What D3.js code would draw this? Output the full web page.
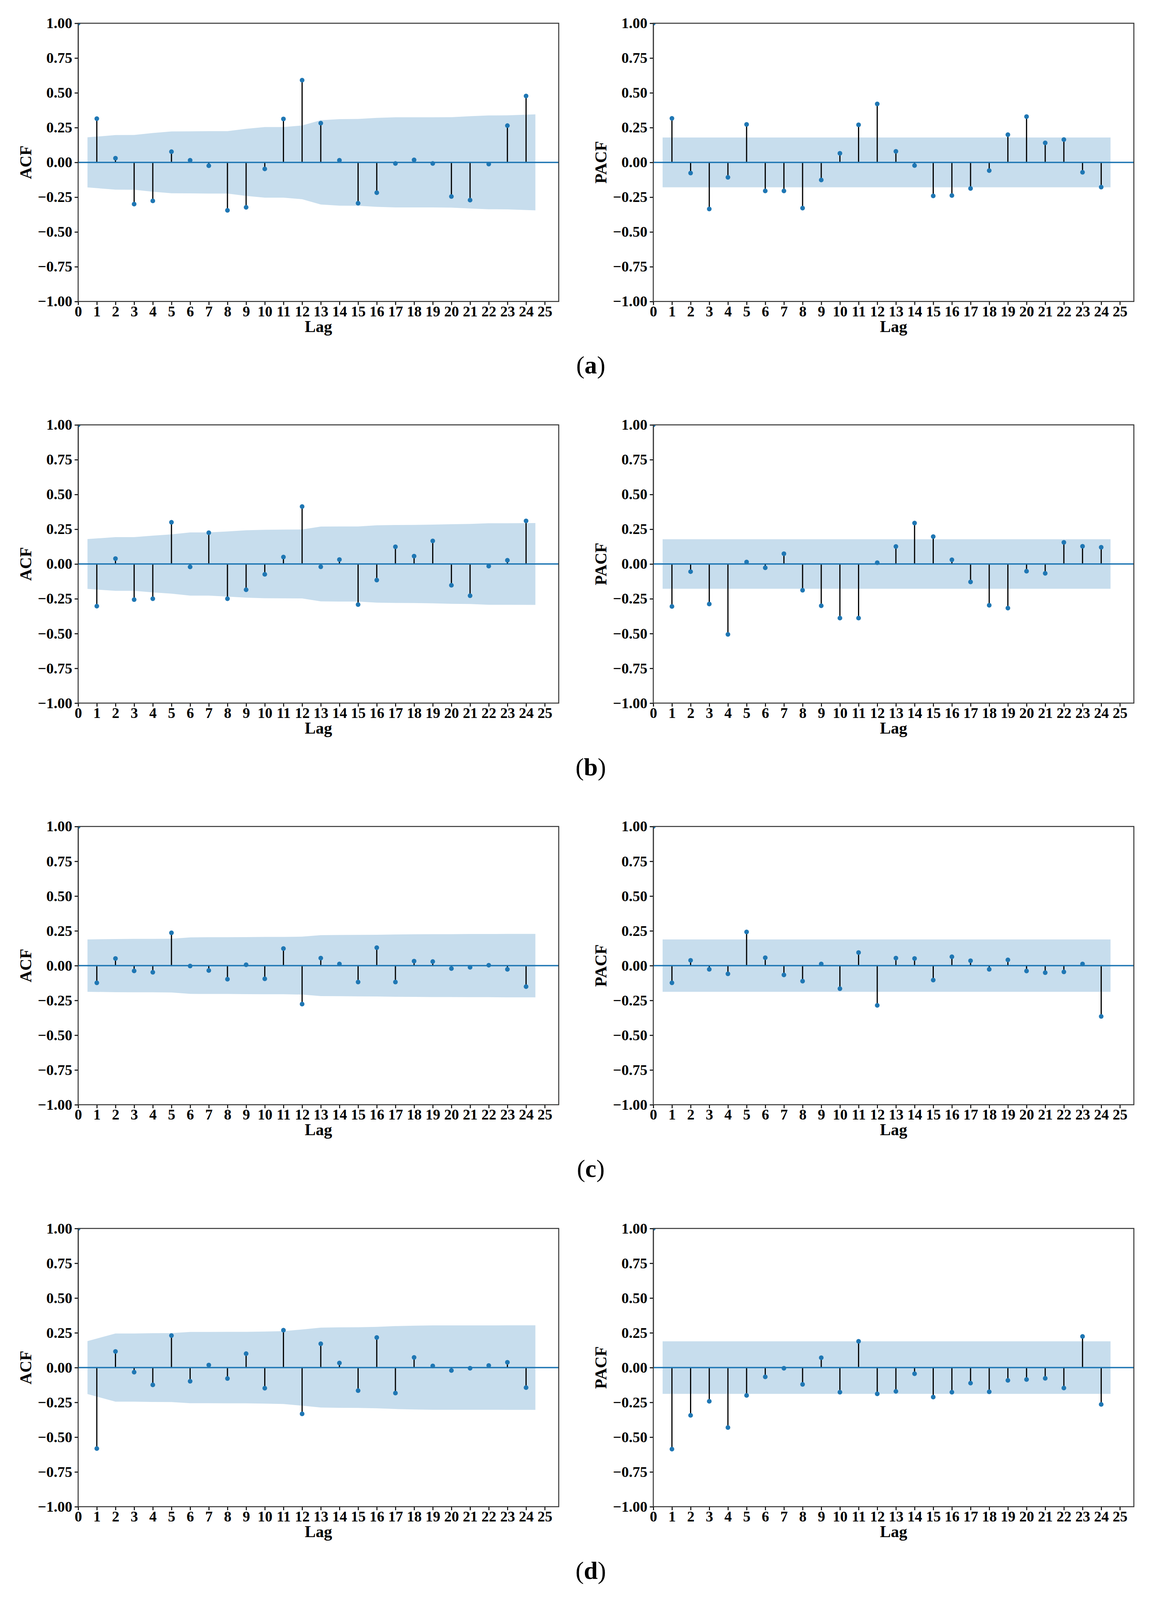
<!DOCTYPE html>
<html>
<head>
<meta charset="utf-8">
<script src="https://cdn.jsdelivr.net/npm/d3@7/dist/d3.min.js"></script>
<style>
  html, body { margin: 0; padding: 0; background: #fff; overflow: hidden; }
  svg { display: block; }
</style>
</head>
<body>
<div id="chart-area"></div>
<script>
// lags 0..24 (lag 0 is always 1)
const LAGS = d3.range(0, 25);
const X_TICKS = d3.range(0, 26);
const Y_TICKS = [-1, -0.75, -0.5, -0.25, 0, 0.25, 0.5, 0.75, 1];
const PANEL_LABELS = ["a", "b", "c", "d"];

// (a)
const acfA = [1, 0.314, 0.03, -0.30, -0.277, 0.077, 0.015, -0.024, -0.345, -0.323, -0.047, 0.312, 0.591,
  0.282, 0.015, -0.294, -0.218, -0.008, 0.018, -0.008, -0.245, -0.271, -0.012, 0.264, 0.477];
const acfBandA = [0.18, 0.196, 0.197, 0.211, 0.222, 0.223, 0.224, 0.224, 0.241, 0.254, 0.254, 0.265,
  0.303, 0.311, 0.312, 0.32, 0.324, 0.324, 0.324, 0.325, 0.332, 0.337, 0.338, 0.345];
const pacfA = [1, 0.316, -0.077, -0.335, -0.108, 0.273, -0.205, -0.205, -0.329, -0.127, 0.065, 0.27, 0.42,
  0.079, -0.023, -0.241, -0.238, -0.188, -0.059, 0.199, 0.329, 0.14, 0.164, -0.071, -0.178];
const pacfBandA = 0.179;

// (b)
const acfB = [1, -0.303, 0.039, -0.256, -0.25, 0.30, -0.021, 0.225, -0.25, -0.185, -0.074, 0.05, 0.413,
  -0.02, 0.032, -0.292, -0.116, 0.124, 0.056, 0.166, -0.153, -0.228, -0.015, 0.027, 0.31];
const acfBandB = [0.179, 0.193, 0.193, 0.204, 0.213, 0.227, 0.227, 0.234, 0.242, 0.246, 0.247, 0.248,
  0.269, 0.27, 0.27, 0.278, 0.28, 0.281, 0.283, 0.286, 0.288, 0.293, 0.293, 0.294];
const pacfB = [1, -0.305, -0.055, -0.288, -0.506, 0.014, -0.027, 0.074, -0.189, -0.30, -0.389, -0.389, 0.009,
  0.126, 0.294, 0.197, 0.03, -0.129, -0.297, -0.317, -0.052, -0.067, 0.155, 0.127, 0.12];
const pacfBandB = 0.178;

// (c)
const acfC = [1, -0.124, 0.051, -0.038, -0.048, 0.236, -0.003, -0.035, -0.098, 0.006, -0.095, 0.123, -0.277,
  0.054, 0.012, -0.118, 0.129, -0.118, 0.032, 0.029, -0.021, -0.012, 0.003, -0.027, -0.151];
const acfBandC = [0.188, 0.191, 0.192, 0.192, 0.193, 0.203, 0.204, 0.204, 0.205, 0.206, 0.206, 0.208,
  0.219, 0.22, 0.221, 0.222, 0.224, 0.225, 0.226, 0.226, 0.227, 0.227, 0.228, 0.228];
const pacfC = [1, -0.124, 0.038, -0.027, -0.059, 0.242, 0.057, -0.067, -0.112, 0.012, -0.166, 0.094, -0.286,
  0.054, 0.051, -0.104, 0.064, 0.035, -0.027, 0.041, -0.039, -0.051, -0.045, 0.012, -0.365];
const pacfBandC = 0.188;

// (d)
const acfD = [1, -0.582, 0.116, -0.033, -0.124, 0.23, -0.098, 0.018, -0.079, 0.1, -0.148, 0.269, -0.333,
  0.171, 0.033, -0.166, 0.216, -0.183, 0.073, 0.012, -0.021, -0.005, 0.015, 0.038, -0.144];
const acfBandD = [0.19, 0.245, 0.245, 0.247, 0.248, 0.256, 0.256, 0.257, 0.257, 0.259, 0.262, 0.274,
  0.287, 0.289, 0.29, 0.293, 0.298, 0.301, 0.303, 0.303, 0.303, 0.303, 0.304, 0.304];
const pacfD = [1, -0.586, -0.343, -0.242, -0.431, -0.2, -0.067, -0.005, -0.121, 0.071, -0.177, 0.189, -0.189,
  -0.171, -0.044, -0.212, -0.177, -0.112, -0.174, -0.092, -0.086, -0.077, -0.147, 0.224, -0.265];
const pacfBandD = 0.189;

// figure is laid out for 2951 x 4681; vertical positions shrink to fit the window
const WIDTH = 2951;
const FULL_H = 4681;
const SY = Math.min(1, (window.innerHeight || FULL_H) / FULL_H);
const HEIGHT = Math.floor(FULL_H * SY);

const PLOT_W = 1230;
const PLOT_H = 814 * SY;
const COL_X = [200, 1672];
const ROW_Y = [68, 1243, 2418, 3594].map(v => v * SY);
const C0 = "#1f77b4";
const BAND = "#c7dded";
const FONT = "'Liberation Serif', 'Times New Roman', Times, serif";

const svg = d3.select("#chart-area").append("svg")
  .attr("width", WIDTH)
  .attr("height", HEIGHT);

svg.append("rect").attr("width", WIDTH).attr("height", HEIGHT).attr("fill", "#fff");

const x = d3.scaleLinear().domain([0, 25.75]).range([0, PLOT_W]);
const y = d3.scaleLinear().domain([-1, 1]).range([PLOT_H, 0]);

// band x positions: first lag pulled to 0.5, last pushed to 24.5
const bandX = d3.range(1, 25).map(l => l === 1 ? 0.5 : (l === 24 ? 24.5 : l));

let clipId = 0;

function drawPanel(left, top, values, band, yLabel) {
  const g = svg.append("g").attr("transform", `translate(${left}, ${top})`);
  const id = "clip" + (clipId++);
  g.append("clipPath").attr("id", id)
    .append("rect").attr("width", PLOT_W).attr("height", PLOT_H);

  const inner = g.append("g").attr("clip-path", `url(#${id})`);

  // confidence band
  const bandData = bandX.map((bx, i) => ({ x: bx, w: Array.isArray(band) ? band[i] : band }));
  const area = d3.area()
    .x(d => x(d.x))
    .y0(d => y(-d.w))
    .y1(d => y(d.w));
  inner.append("path")
    .datum(bandData)
    .attr("d", area)
    .attr("fill", BAND);

  const pts = LAGS.map((l, i) => ({ lag: l, v: values[i] }));

  // stems
  inner.selectAll("line.stem")
    .data(pts)
    .enter().append("line")
    .attr("class", "stem")
    .attr("x1", d => x(d.lag))
    .attr("x2", d => x(d.lag))
    .attr("y1", y(0))
    .attr("y2", d => y(d.v))
    .attr("stroke", "#000")
    .attr("stroke-width", 3);

  // zero line
  inner.append("line")
    .attr("x1", 0).attr("x2", PLOT_W)
    .attr("y1", y(0)).attr("y2", y(0))
    .attr("stroke", C0)
    .attr("stroke-width", 3.5);

  // markers
  inner.selectAll("circle")
    .data(pts)
    .enter().append("circle")
    .attr("cx", d => x(d.lag))
    .attr("cy", d => y(d.v))
    .attr("r", 6)
    .attr("fill", C0);

  // axes
  const yAxisCall = d3.axisLeft(y)
    .tickValues(Y_TICKS)
    .tickFormat(d3.format(".2f"))
    .tickSize(9)
    .tickPadding(6);
  const yAx = g.append("g").call(yAxisCall);

  const xAxisCall = d3.axisBottom(x)
    .tickValues(X_TICKS)
    .tickFormat(d3.format("d"))
    .tickSize(9)
    .tickPadding(2);
  const xAx = g.append("g")
    .attr("transform", `translate(0, ${PLOT_H})`)
    .call(xAxisCall);

  [yAx, xAx].forEach(ax => {
    ax.select(".domain").remove();
    ax.attr("font-family", FONT).attr("font-size", 38).attr("font-weight", "bold");
    ax.selectAll(".tick line").attr("stroke", "#000").attr("stroke-width", 2.5);
    ax.selectAll(".tick text").attr("fill", "#000");
  });

  // frame
  g.append("rect")
    .attr("width", PLOT_W)
    .attr("height", PLOT_H)
    .attr("fill", "none")
    .attr("stroke", "#333")
    .attr("stroke-width", 2.5);

  g.append("text")
    .attr("x", PLOT_W / 2)
    .attr("y", PLOT_H + 78)
    .attr("text-anchor", "middle")
    .attr("font-family", FONT)
    .attr("font-weight", "bold")
    .attr("font-size", 42)
    .text("Lag");

  g.append("text")
    .attr("transform", `translate(-120, ${PLOT_H / 2}) rotate(-90)`)
    .attr("text-anchor", "middle")
    .attr("font-family", FONT)
    .attr("font-weight", "bold")
    .attr("font-size", 42)
    .text(yLabel);
}

const rows = [
  [acfA, acfBandA, pacfA, pacfBandA],
  [acfB, acfBandB, pacfB, pacfBandB],
  [acfC, acfBandC, pacfC, pacfBandC],
  [acfD, acfBandD, pacfD, pacfBandD]
];

rows.forEach((r, i) => {
  drawPanel(COL_X[0], ROW_Y[i], r[0], r[1], "ACF");
  drawPanel(COL_X[1], ROW_Y[i], r[2], r[3], "PACF");

  const lab = svg.append("text")
    .attr("x", 1512)
    .attr("y", ROW_Y[i] + 1025 * SY)
    .attr("text-anchor", "middle")
    .attr("font-family", FONT)
    .attr("font-size", 64);
  lab.append("tspan").text("(");
  lab.append("tspan").attr("font-weight", "bold").text(PANEL_LABELS[i]);
  lab.append("tspan").text(")");
});
</script>
</body>
</html>
